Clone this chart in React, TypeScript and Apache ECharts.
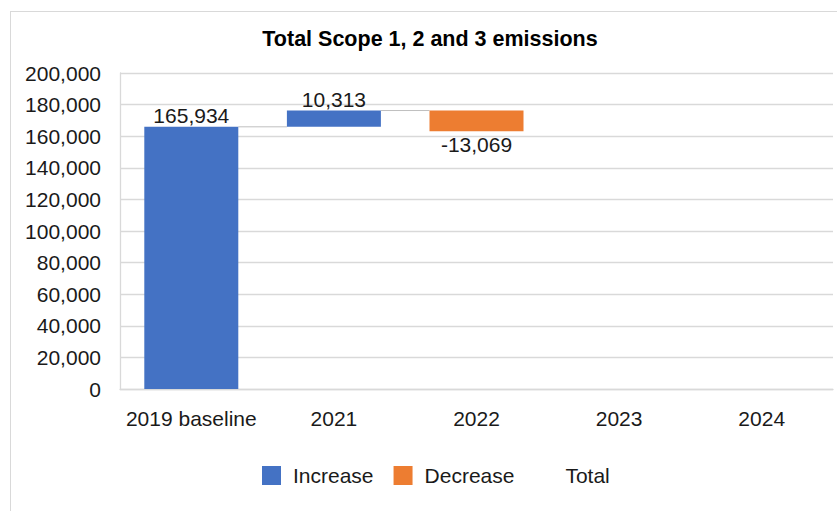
import React, { useEffect, useRef } from "react";
import * as echarts from "echarts";

const categories = ["2019 baseline", "2021", "2022", "2023", "2024"];
const increases: (number | string)[] = [165934, 10313, "-", "-", "-"];
const decreases: (number | string)[] = ["-", "-", 13069, "-", "-"];
const yTicks = { min: 0, max: 200000, interval: 20000 };

const BAR_W = 94;
const FONT = "'Liberation Sans', Arial, sans-serif";

function fmt(v: number) {
  return v.toLocaleString("en-US");
}

export default function App() {
  const ref = useRef<HTMLDivElement>(null);
  useEffect(() => {
    document.body.style.margin = "0";
    if (!ref.current) return;
    const chart = echarts.init(ref.current, undefined, { renderer: "svg" });

    // running totals for the invisible base and connectors
    const base: (number | string)[] = [];
    const connectors: number[][] = [];
    let running = 0;
    for (let i = 0; i < categories.length; i++) {
      const inc = typeof increases[i] === "number" ? (increases[i] as number) : 0;
      const dec = typeof decreases[i] === "number" ? (decreases[i] as number) : 0;
      if (inc === 0 && dec === 0) {
        base.push("-");
        continue;
      }
      if (inc) {
        base.push(i === 0 ? "-" : running);
        running += inc;
      } else {
        running -= dec;
        base.push(running);
      }
      const nextHas =
        i + 1 < categories.length &&
        (typeof increases[i + 1] === "number" || typeof decreases[i + 1] === "number");
      if (nextHas) connectors.push([i, running]);
    }

    chart.setOption({
      animation: false,
      textStyle: { fontFamily: FONT },
      title: {
        text: "Total Scope 1, 2 and 3 emissions",
        left: 430,
        textAlign: "center",
        top: 28,
        padding: 0,
        textStyle: { fontSize: 21.5, fontWeight: "bold", color: "#000", fontFamily: FONT },
      },
      graphic: [
        { type: "line", shape: { x1: 10, y1: 11.5, x2: 837, y2: 11.5 }, style: { stroke: "#D9D9D9", lineWidth: 1 } },
        { type: "line", shape: { x1: 10.5, y1: 11, x2: 10.5, y2: 511 }, style: { stroke: "#D9D9D9", lineWidth: 1 } },
      ],
      legend: {
        left: 262,
        top: 465,
        padding: 0,
        itemWidth: 19,
        itemHeight: 19,
        itemGap: 20,
        icon: "rect",
        data: ["Increase", "Decrease", "Total"],
        textStyle: { fontSize: 21, color: "#1a1a1a", fontFamily: FONT, padding: [0, 0, 0, 7] },
      },
      grid: { left: 120, right: 4, top: 73, bottom: 122, containLabel: false },
      xAxis: {
        type: "category",
        data: categories,
        axisLine: { lineStyle: { color: "#D9D9D9", width: 1.3 } },
        axisTick: { show: false },
        axisLabel: { interval: 0, fontSize: 21, color: "#1a1a1a", margin: 19, fontFamily: FONT },
      },
      yAxis: {
        type: "value",
        min: yTicks.min,
        max: yTicks.max,
        interval: yTicks.interval,
        axisLine: { show: true, lineStyle: { color: "#D9D9D9", width: 1.3 } },
        axisTick: { show: false },
        splitLine: { lineStyle: { color: "#D9D9D9", width: 1.3 } },
        axisLabel: { fontSize: 21, color: "#1a1a1a", margin: 19, fontFamily: FONT, formatter: (v: number) => fmt(v) },
      },
      series: [
        {
          name: "base",
          type: "bar",
          stack: "wf",
          barWidth: BAR_W,
          silent: true,
          itemStyle: { color: "transparent" },
          data: base,
        },
        {
          name: "Increase",
          type: "bar",
          stack: "wf",
          barWidth: BAR_W,
          itemStyle: { color: "#4472C4" },
          label: {
            show: true,
            position: "top",
            distance: 1,
            fontSize: 21,
            color: "#1a1a1a",
            fontFamily: FONT,
            formatter: (p: any) => fmt(p.value),
          },
          data: increases,
        },
        {
          name: "Decrease",
          type: "bar",
          stack: "wf",
          barWidth: BAR_W,
          itemStyle: { color: "#ED7D31" },
          label: {
            show: true,
            position: "bottom",
            distance: 3,
            fontSize: 21,
            color: "#1a1a1a",
            fontFamily: FONT,
            formatter: (p: any) => "-" + fmt(p.value),
          },
          data: decreases,
        },
        {
          name: "Total",
          type: "bar",
          stack: "wf",
          barWidth: BAR_W,
          itemStyle: { color: "transparent" },
          data: categories.map(() => "-"),
        },
        {
          name: "connectors",
          type: "custom",
          silent: true,
          encode: { x: 0, y: 1 },
          data: connectors,
          renderItem: (_params: any, api: any) => {
            const p = api.coord([api.value(0), api.value(1)]);
            const band = api.size([1, 0])[0];
            const half = BAR_W / 2;
            return {
              type: "line",
              shape: { x1: p[0] + half, y1: p[1], x2: p[0] + band - half, y2: p[1] },
              style: { stroke: "#BFBFBF", lineWidth: 1 },
            };
          },
        },
      ],
    });
    return () => chart.dispose();
  }, []);
  return <div ref={ref} style={{ width: 837, height: 511 }} />;
}
